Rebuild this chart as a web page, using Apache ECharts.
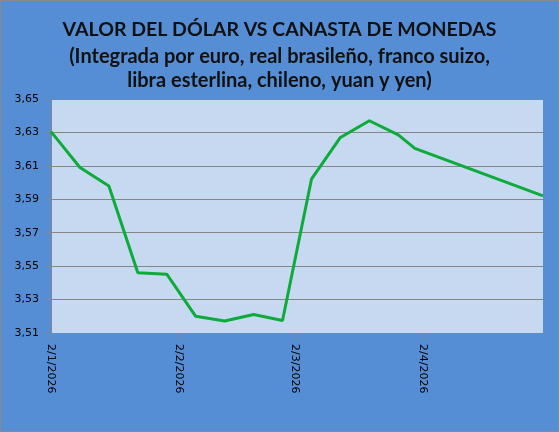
<!DOCTYPE html>
<html>
<head>
<meta charset="utf-8">
<script src="https://cdn.jsdelivr.net/npm/echarts@6/dist/echarts.min.js"></script>
<style>
html,body{margin:0;padding:0;background:#558ED5;}
#c{width:559px;height:432px;box-sizing:border-box;border:1px solid #8a8a8a;}
</style>
</head>
<body>
<div id="c"></div>
<script>
const titleLines = [
  "VALOR DEL DÓLAR VS CANASTA DE MONEDAS",
  "(Integrada por euro, real brasileño, franco suizo,",
  "libra esterlina, chileno, yuan y yen)"
];
const dates = ["2026-01-02","2026-01-09","2026-01-16","2026-01-23","2026-01-30","2026-02-06","2026-02-13","2026-02-20","2026-02-27","2026-03-06","2026-03-13","2026-03-20","2026-03-27","2026-03-31","2026-05-01"];
const values = [3.6305,3.609,3.598,3.546,3.5452,3.520,3.5172,3.5211,3.5175,3.602,3.627,3.637,3.6285,3.6205,3.592];
const xTickDates = ["2026-01-02","2026-02-02","2026-03-02","2026-04-02"];
const xTickLabels = ["2/1/2026","2/2/2026","2/3/2026","2/4/2026"];
const yMin = 3.51, yMax = 3.65, yStep = 0.02;

const DAY = 86400000;
function ts(s){ const p = s.split('-').map(Number); return Date.UTC(p[0], p[1]-1, p[2]); }
const t0 = ts(dates[0]);
function dayNum(s){ return Math.round((ts(s) - t0) / DAY); }
const tickDays = xTickDates.map(dayNum);
const labelMap = {}; tickDays.forEach((d,i)=>labelMap[d]=xTickLabels[i]);

const chart = echarts.init(document.getElementById('c'), null, {renderer:'canvas'});
chart.setOption({
  backgroundColor: '#558ED5',
  animation: false,
  title: [
    {text: titleLines[0], left: 'center', top: 14, textStyle:{fontFamily:'Lato', fontWeight:'bold', fontSize:19.5, color:'#111'}},
    {text: titleLines[1], left: 'center', top: 41, textStyle:{fontFamily:'Lato', fontWeight:'bold', fontSize:20, color:'#111'}},
    {text: titleLines[2], left: 'center', top: 65, textStyle:{fontFamily:'Lato', fontWeight:'bold', fontSize:20, color:'#111'}}
  ],
  grid: {left: 50, right: 15, top: 98, bottom: 98, show: true, backgroundColor: '#C6D9F1', borderWidth: 0},
  xAxis: {
    type: 'value',
    min: 0, max: dayNum(dates[dates.length-1]),
    axisLine: {show: true, onZero: false, lineStyle: {color: '#868686', width: 1}},
    axisTick: {show: true, customValues: tickDays, length: 5, lineStyle: {color: '#868686'}},
    axisLabel: {customValues: tickDays, rotate: -90, margin: 11, fontFamily: 'DejaVu Sans', fontSize: 11, color: '#000',
      formatter: v => labelMap[v] || ''},
    splitLine: {show: false}
  },
  yAxis: {
    type: 'value', min: yMin, max: yMax, interval: yStep,
    axisLine: {show: true, lineStyle: {color: '#868686', width: 1}},
    axisTick: {show: true, length: 5, lineStyle: {color: '#868686'}},
    axisLabel: {margin: 12, fontFamily: 'DejaVu Sans', fontSize: 11, color: '#000',
      formatter: v => v.toFixed(2).replace('.', ',')},
    splitLine: {show: true, lineStyle: {color: '#868686', width: 1}}
  },
  series: [{
    type: 'line',
    data: dates.map((d,i)=>[dayNum(d), values[i]]),
    showSymbol: false,
    lineStyle: {color: '#0DAB3A', width: 3},
    itemStyle: {color: '#0DAB3A'}
  }]
});
</script>
</body>
</html>
